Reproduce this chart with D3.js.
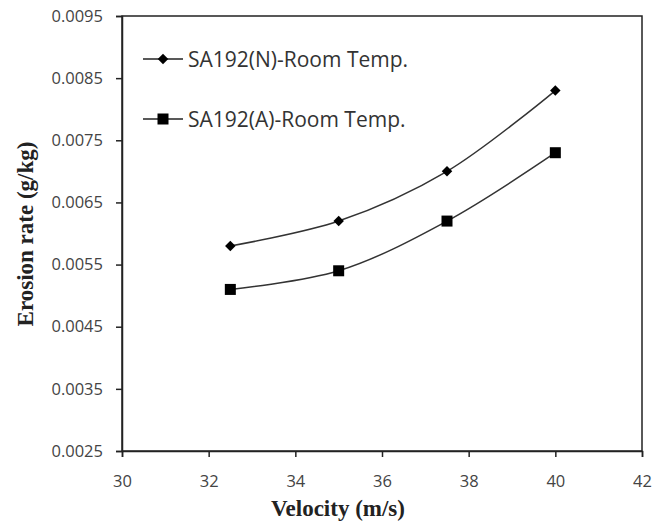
<!DOCTYPE html>
<html>
<head>
<meta charset="utf-8">
<script src="https://cdn.jsdelivr.net/npm/d3@7"></script>
<style>
  body { margin: 0; background: #fff; }
</style>
</head>
<body>
<script>
const velocity = [32.5, 35, 37.5, 40];
const seriesN = [0.0058, 0.0062, 0.0070, 0.0083];
const seriesA = [0.0051, 0.0054, 0.0062, 0.0073];
const xTicks = [30, 32, 34, 36, 38, 40, 42];
const yTicks = [0.0025, 0.0035, 0.0045, 0.0055, 0.0065, 0.0075, 0.0085, 0.0095];
const labels = ["SA192(N)-Room Temp.", "SA192(A)-Room Temp."];

const svg = d3.select("body").append("svg")
  .attr("width", 652)
  .attr("height", 525);

const x = d3.scaleLinear().domain([30, 42]).range([122, 642]);
const y = d3.scaleLinear().domain([0.0025, 0.0095]).range([451, 16]);

// plot box
svg.append("rect")
  .attr("x", x(30)).attr("y", y(0.0095))
  .attr("width", x(42) - x(30)).attr("height", y(0.0025) - y(0.0095))
  .attr("fill", "none").attr("stroke", "#222").attr("stroke-width", 1.5);

const xAxis = svg.append("g")
  .attr("transform", `translate(0, ${y(0.0025)})`)
  .call(d3.axisBottom(x).tickValues(xTicks).tickSize(6).tickPadding(18).tickFormat(d3.format("d")));

const yAxis = svg.append("g")
  .attr("transform", `translate(${x(30)}, 0)`)
  .call(d3.axisLeft(y).tickValues(yTicks).tickSize(6).tickPadding(13).tickFormat(d3.format(".4f")));

[xAxis, yAxis].forEach(g => {
  g.select(".domain").attr("stroke", "#222").attr("stroke-width", 1.5);
  g.selectAll(".tick line").attr("stroke", "#222").attr("stroke-width", 1.5);
  g.selectAll(".tick text")
    .attr("font-family", "Open Sans")
    .attr("font-size", 16.5)
    .attr("fill", "#444");
});

const line = d3.line()
  .x((d, i) => x(velocity[i]))
  .y(d => y(d))
  .curve(d3.curveCatmullRom.alpha(0.5));

[seriesN, seriesA].forEach(s => {
  svg.append("path")
    .attr("d", line(s))
    .attr("fill", "none")
    .attr("stroke", "#333")
    .attr("stroke-width", 1.5);
});

const diamond = d3.symbol().type(d3.symbolDiamond2).size(70);

svg.selectAll(".ptN").data(seriesN).enter().append("path")
  .attr("class", "ptN")
  .attr("transform", (d, i) => `translate(${x(velocity[i])}, ${y(d)})`)
  .attr("d", diamond)
  .attr("fill", "#000");

svg.selectAll(".ptA").data(seriesA).enter().append("rect")
  .attr("class", "ptA")
  .attr("x", (d, i) => x(velocity[i]) - 5.5)
  .attr("y", d => y(d) - 5.5)
  .attr("width", 11)
  .attr("height", 11)
  .attr("fill", "#000");

// legend
const legend = svg.append("g");
[59, 119].forEach((ly, i) => {
  legend.append("line")
    .attr("x1", 143).attr("x2", 183)
    .attr("y1", ly).attr("y2", ly)
    .attr("stroke", "#222").attr("stroke-width", 1.5);
  if (i === 0) {
    legend.append("path")
      .attr("transform", `translate(163, ${ly})`)
      .attr("d", diamond)
      .attr("fill", "#000");
  } else {
    legend.append("rect")
      .attr("x", 157.5).attr("y", ly - 5.5)
      .attr("width", 11).attr("height", 11)
      .attr("fill", "#000");
  }
  legend.append("text")
    .attr("x", 188).attr("y", ly + 8)
    .attr("font-family", "Open Sans")
    .attr("font-size", 21)
    .attr("fill", "#333")
    .text(labels[i]);
});

// axis titles
svg.append("text")
  .attr("transform", `translate(33, 234) rotate(-90)`)
  .attr("text-anchor", "middle")
  .attr("font-family", "Liberation Serif")
  .attr("font-weight", "bold")
  .attr("font-size", 23)
  .attr("fill", "#222")
  .text("Erosion rate (g/kg)");

svg.append("text")
  .attr("x", 338).attr("y", 516)
  .attr("text-anchor", "middle")
  .attr("font-family", "Liberation Serif")
  .attr("font-weight", "bold")
  .attr("font-size", 23)
  .attr("fill", "#222")
  .text("Velocity (m/s)");
</script>
</body>
</html>
